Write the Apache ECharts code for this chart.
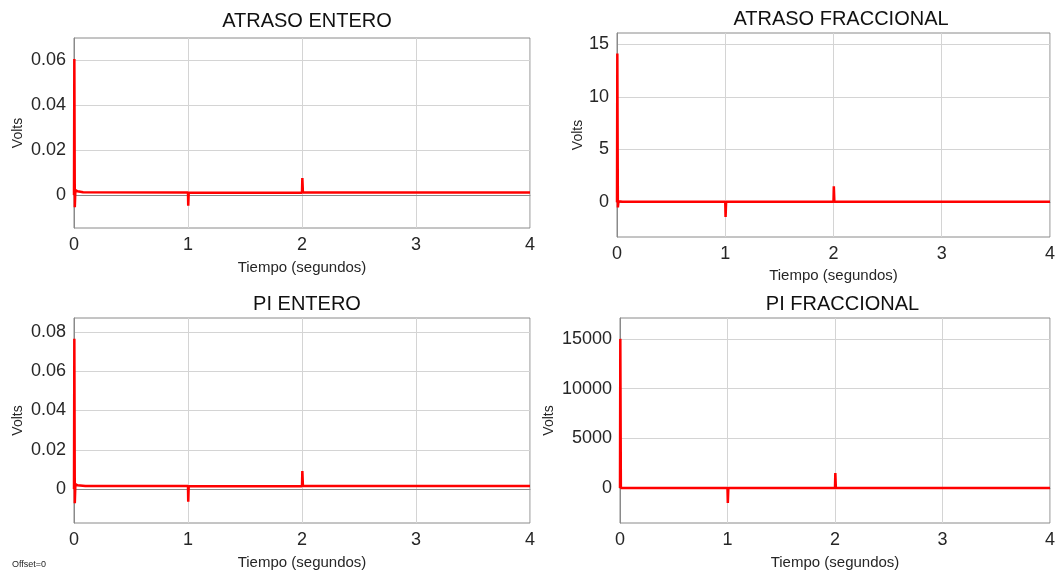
<!DOCTYPE html>
<html>
<head>
<meta charset="utf-8">
<script src="https://cdn.jsdelivr.net/npm/echarts@6/dist/echarts.min.js"></script>
<style>
  html, body { margin: 0; padding: 0; background: #fff; }
  #chart { width: 1058px; height: 572px; }
</style>
</head>
<body>
<div id="chart"></div>
<script>
// titulos de cada grafica
var titles = ['ATRASO ENTERO', 'ATRASO FRACCIONAL', 'PI ENTERO', 'PI FRACCIONAL'];
var xTicks = [0, 1, 2, 3, 4];

// ATRASO ENTERO
var tAE = [0, 0.003, 0.007, 0.012, 0.03, 0.08, 1.0, 1.002, 1.006, 2.0, 2.003, 2.008, 4.0];
var vAE = [0, 0.0605, -0.0055, 0.0022, 0.0016, 0.0012, 0.0011, -0.0048, 0.0010, 0.0010, 0.0075, 0.0011, 0.0011];
var yTicksAE = [0, 0.02, 0.04, 0.06];

// ATRASO FRACCIONAL
var tAF = [0, 0.003, 0.008, 0.014, 0.05, 1.0, 1.003, 1.008, 2.0, 2.003, 2.008, 4.0];
var vAF = [0, 14.1, -0.5, 0.1, 0.05, 0.05, -1.4, 0.05, 0.05, 1.5, 0.05, 0.05];
var yTicksAF = [0, 5, 10, 15];

// PI ENTERO
var tPE = [0, 0.003, 0.007, 0.012, 0.03, 0.1, 1.0, 1.002, 1.006, 2.0, 2.003, 2.008, 4.0];
var vPE = [0, 0.0765, -0.0072, 0.0025, 0.0019, 0.0015, 0.0015, -0.0065, 0.0014, 0.0014, 0.0092, 0.0015, 0.0015];
var yTicksPE = [0, 0.02, 0.04, 0.06, 0.08];

// PI FRACCIONAL
var tPF = [0, 0.003, 0.008, 1.0, 1.003, 1.008, 2.0, 2.003, 2.008, 4.0];
var vPF = [0, 15000, 0, 0, -1500, 0, 0, 1500, 0, 0];
var yTicksPF = [0, 5000, 10000, 15000];

function zip(t, v) {
    var out = [];
    for (var i = 0; i < t.length; i++) out.push([t[i], v[i]]);
    return out;
}

var FONT = '"Liberation Sans", Arial, sans-serif';
var TXT = '#262626';

var grids = [
    {left: 74, top: 38, width: 456, height: 190},
    {left: 617, top: 33, width: 438, height: 204},
    {left: 74, top: 318, width: 456, height: 205},
    {left: 620, top: 318, width: 435, height: 205}
];
var yRanges = [[-0.0147, 0.0698], [-3.3, 16.05], [-0.0173, 0.0871], [-3520, 17100]];
var yTicks = [yTicksAE, yTicksAF, yTicksPE, yTicksPF];
var volGap = [49, 31, 49, 64];
var nameGapX = [32, 31, 32, 32];
var titleTop = [6, 4, 289, 289];
var series = [zip(tAE, vAE), zip(tAF, vAF), zip(tPE, vPE), zip(tPF, vPF)];

var option = {
    animation: false,
    backgroundColor: '#fff',
    title: [], grid: [], xAxis: [], yAxis: [], series: [],
    graphic: [{
        type: 'text', left: 12, top: 560,
        style: {text: 'Offset=0', font: '9px ' + FONT, fill: TXT}
    }]
};

for (var i = 0; i < 4; i++) {
    var g = grids[i];
    option.grid.push({
        left: g.left, top: g.top, width: g.width, height: g.height,
        show: true, borderColor: '#8a8a8a', borderWidth: 1
    });
    option.title.push({
        text: titles[i],
        left: g.left + g.width / 2, textAlign: 'center',
        top: titleTop[i],
        textStyle: {fontFamily: FONT, fontSize: 20, fontWeight: 'normal', color: '#111'}
    });
    option.xAxis.push({
        type: 'value', gridIndex: i, min: 0, max: 4, interval: 1,
        name: 'Tiempo (segundos)', nameLocation: 'middle', nameGap: nameGapX[i],
        nameTextStyle: {fontFamily: FONT, fontSize: 15, color: TXT},
        axisLine: {show: true, lineStyle: {color: '#8a8a8a'}},
        axisTick: {show: false},
        axisLabel: {fontFamily: FONT, fontSize: 18, color: TXT, margin: 8},
        splitLine: {show: true, lineStyle: {color: '#d4d4d4', width: 1}}
    });
    option.yAxis.push({
        type: 'value', gridIndex: i, min: yRanges[i][0], max: yRanges[i][1],
        name: 'Volts', nameLocation: 'middle', nameGap: volGap[i],
        nameTextStyle: {fontFamily: FONT, fontSize: 14, color: TXT},
        axisLine: {show: true, lineStyle: {color: '#8a8a8a'}},
        axisTick: {show: false, customValues: yTicks[i]},
        axisLabel: {
            fontFamily: FONT, fontSize: 18, color: TXT, margin: 8,
            customValues: yTicks[i],
            formatter: function (v) { return String(v); }
        },
        splitLine: {show: true, lineStyle: {color: '#d4d4d4', width: 1}}
    });
    option.series.push({
        type: 'line', xAxisIndex: i, yAxisIndex: i,
        data: series[i], showSymbol: false, sampling: null,
        lineStyle: {color: '#ff0000', width: 2.5, join: 'bevel'},
        itemStyle: {color: '#ff0000'}
    });
}

var chart = echarts.init(document.getElementById('chart'));
chart.setOption(option);
window.addEventListener('resize', function () {
    chart.resize();
});
</script>
</body>
</html>
